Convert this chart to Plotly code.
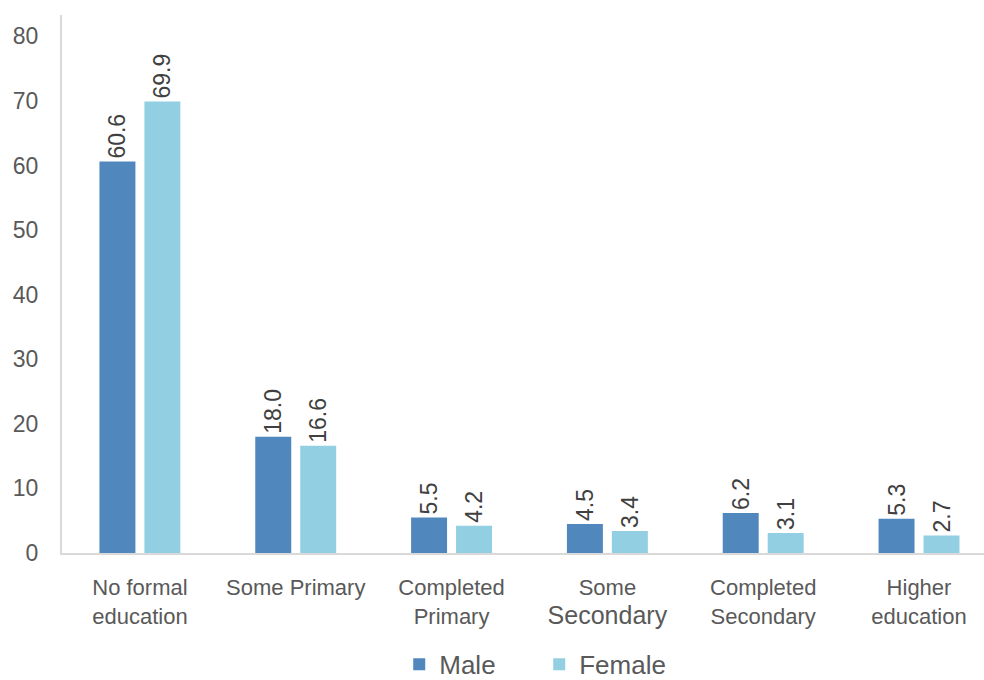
import plotly.graph_objects as go

categories = [
    "No formal<br>education",
    "Some Primary",
    "Completed<br>Primary",
    "Some<br><span style='font-size:25px'>Secondary</span>",
    "Completed<br>Secondary",
    "Higher<br>education",
]
male = [60.6, 18.0, 5.5, 4.5, 6.2, 5.3]
female = [69.9, 16.6, 4.2, 3.4, 3.1, 2.7]
y_ticks = [0, 10, 20, 30, 40, 50, 60, 70, 80]

MALE_COLOR = "#5087BC"
FEMALE_COLOR = "#93CFE3"
TEXT_GRAY = "#595959"
LABEL_GRAY = "#404040"
FONT = "Liberation Sans, Arial, sans-serif"

x_idx = list(range(len(categories)))

fig = go.Figure()
for name, vals, col in [("Male", male, MALE_COLOR), ("Female", female, FEMALE_COLOR)]:
    fig.add_trace(go.Bar(
        name=name,
        x=x_idx,
        y=vals,
        marker=dict(color=col, line=dict(width=0)),
        text=[f"{v:.1f}" for v in vals],
        textposition="outside",
        textangle=-90,
        constraintext="none",
        cliponaxis=False,
        textfont=dict(family=FONT, size=23, color=LABEL_GRAY),
    ))

fig.update_layout(
    width=984,
    height=680,
    margin=dict(l=62, r=0, t=15, b=127),
    paper_bgcolor="white",
    plot_bgcolor="white",
    barmode="group",
    bargap=0.423,
    bargroupgap=0.2,
    font=dict(family=FONT, color=TEXT_GRAY),
    showlegend=True,
    legend=dict(
        orientation="h",
        xref="container",
        yref="container",
        x=0.548,
        xanchor="center",
        y=0.023,
        yanchor="middle",
        font=dict(family=FONT, size=26, color=TEXT_GRAY),
        entrywidth=95,
        entrywidthmode="pixels",
        traceorder="normal",
    ),
    xaxis=dict(
        tickmode="array",
        tickvals=x_idx,
        ticktext=categories,
        range=[-0.5, 5.417],
        showline=True,
        linecolor="#D9D9D9",
        linewidth=2,
        ticks="",
        showgrid=False,
        zeroline=False,
        automargin=False,
        tickfont=dict(family=FONT, size=22, color=TEXT_GRAY),
        ticklabelstandoff=14,
    ),
    yaxis=dict(
        range=[0, 83.3],
        tickmode="array",
        tickvals=y_ticks,
        showline=True,
        linecolor="#D9D9D9",
        linewidth=2,
        ticks="",
        showgrid=False,
        zeroline=False,
        automargin=False,
        tickfont=dict(family=FONT, size=23, color=TEXT_GRAY),
        ticklabelstandoff=17,
    ),
)

fig.write_html("out.html")
